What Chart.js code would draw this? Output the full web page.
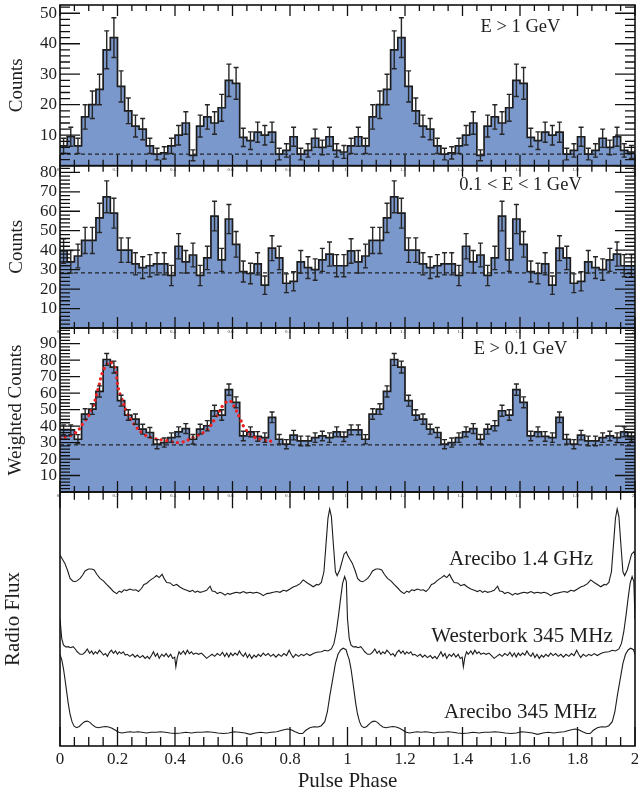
<!DOCTYPE html>
<html>
<head>
<meta charset="utf-8">
<script src="https://cdn.jsdelivr.net/npm/chart.js@4.4.1/dist/chart.umd.min.js"></script>
<style>
    html, body { margin: 0; padding: 0; background: #fff; }
    canvas { display: block; }
</style>
</head>
<body>
<canvas id="phasogram" width="638" height="796"></canvas>
<script>
// left edges of the phase bins, one rotation (shown twice)
var binEdges = [0, 0.025, 0.05, 0.075, 0.1, 0.125, 0.15, 0.175, 0.2, 0.225,
    0.25, 0.275, 0.3, 0.325, 0.35, 0.375, 0.4, 0.425, 0.45, 0.475,
    0.5, 0.525, 0.55, 0.575, 0.6, 0.625, 0.65, 0.675, 0.7, 0.725,
    0.75, 0.775, 0.8, 0.825, 0.85, 0.875, 0.9, 0.925, 0.95, 0.975];

// E > 1 GeV
var counts_high = [6.5, 9.5, 6.5, 16, 20, 25, 38, 42, 26, 18, 13, 12, 6.5, 3.8, 4.2, 6.5, 10, 14, 3.4, 13,
    16, 14, 19, 28, 27, 9.3, 8.2, 11, 10, 11, 3.8, 5, 9.5, 3.8, 5, 9, 6, 9.5, 5, 4.5];
var err_high = [2.5, 3.1, 2.5, 4, 4.5, 5, 6.2, 6.5, 5.1, 4.2, 3.6, 3.5, 2.5, 1.9, 2, 2.5, 3.2, 3.7, 1.8, 3.6,
    4, 3.7, 4.4, 5.3, 5.2, 3, 2.9, 3.3, 3.2, 3.3, 1.9, 2.2, 3.1, 1.9, 2.2, 3, 2.4, 3.1, 2.2, 2.1];
var bg_high = 3.8;

// 0.1 < E < 1 GeV
var counts_mid = [39.6, 34, 37, 45, 45, 56.6, 67.4, 59, 40, 40, 33, 31, 32, 33, 33, 27, 42, 34, 37.5, 27,
    36, 57.5, 35, 56, 43, 29, 28, 33, 22, 41, 36, 23, 24, 34, 31, 30, 35, 38, 32, 32];
var err_mid = [6.3, 5.8, 6.1, 6.7, 6.7, 7.5, 8.2, 7.7, 6.3, 6.3, 5.7, 5.6, 5.7, 5.7, 5.7, 5.2, 6.5, 5.8, 6.1, 5.2,
    6, 7.6, 5.9, 7.5, 6.6, 5.4, 5.3, 5.7, 4.7, 6.4, 6, 4.8, 4.9, 5.8, 5.6, 5.5, 5.9, 6.2, 5.7, 5.7];
var bg_mid = 28.3;

// E > 0.1 GeV, weighted
var counts_all = [37.7, 37.7, 32, 47.3, 50.3, 61, 80.4, 75.8, 55.4, 46.7, 44.2, 38.1, 36.1, 29, 30, 33, 36.5, 38.5, 32, 38.1,
    40.2, 49.3, 46.7, 62.1, 54.4, 34, 36.5, 33.7, 33, 45.3, 32, 29, 34.5, 31, 31, 33, 34, 33, 36.5, 33.5];
var err_all = [3, 3, 2.8, 3.2, 3.2, 3.4, 3.6, 3.6, 3.3, 3.2, 3.1, 3, 3, 2.8, 2.8, 2.9, 3, 3, 2.9, 3,
    3.1, 3.3, 3.2, 3.4, 3.3, 2.9, 3, 2.9, 2.9, 3.2, 2.9, 2.8, 2.9, 2.9, 2.9, 2.9, 2.9, 2.9, 3, 2.9];
var bg_all = 28.6;

// fit (red dotted)
var fit_phase = [0, 0.023, 0.052, 0.081, 0.110, 0.133, 0.151, 0.174, 0.191, 0.203, 0.214, 0.232, 0.255, 0.290,
    0.325, 0.371, 0.417, 0.464, 0.510, 0.545, 0.568, 0.591, 0.609, 0.626, 0.643, 0.672, 0.707, 0.742];
var fit_value = [32.6, 33.6, 35.6, 41.7, 49.7, 62.8, 73.9, 79.0, 74.9, 62.8, 56.8, 48.7, 41.7, 35.2,
    32.6, 31.2, 30.0, 33.2, 37.6, 46.1, 52.7, 55.3, 50.7, 44.7, 38.6, 33.6, 31.6, 30.6];

// Arecibo 1.4 GHz
var ao14_phase = [0, 0.008, 0.017, 0.027, 0.035, 0.044, 0.052, 0.060, 0.070, 0.079, 0.087, 0.099, 0.110, 0.119, 0.128,
    0.139, 0.151, 0.162, 0.174, 0.186, 0.197, 0.206, 0.214, 0.223, 0.232, 0.243, 0.255, 0.264, 0.273, 0.284,
    0.292, 0.301, 0.311, 0.319, 0.327, 0.336, 0.345, 0.355, 0.362, 0.371, 0.383, 0.394, 0.406, 0.417, 0.429,
    0.441, 0.452, 0.461, 0.470, 0.478, 0.487, 0.499, 0.510, 0.522, 0.529, 0.539, 0.547, 0.557, 0.566, 0.574,
    0.583, 0.591, 0.603, 0.614, 0.626, 0.638, 0.649, 0.661, 0.672, 0.684, 0.696, 0.707, 0.719, 0.730, 0.742,
    0.754, 0.765, 0.777, 0.788, 0.800, 0.811, 0.823, 0.835, 0.846, 0.858, 0.869, 0.881, 0.893, 0.900, 0.909,
    0.918, 0.925, 0.932, 0.938, 0.944, 0.951, 0.958, 0.964, 0.973, 0.981, 0.988, 0.996];
var ao14_flux = [75.2, 73.6, 71.9, 68.9, 66, 65, 64.7, 65.1, 66, 67.3, 68.9, 69.7, 69.7, 69.3, 67.6,
    66, 65, 63.6, 62.3, 60.8, 60, 61, 60.5, 61.5, 61.2, 61.8, 61.3, 61.5, 60.8, 62.1,
    63.6, 64, 65, 65.7, 66.3, 67.1, 66.3, 67.6, 66, 64.4, 64.2, 63.1, 63.6, 62.6, 61.8,
    61.3, 60.8, 61.3, 60.5, 61, 60.5, 60.8, 61.3, 62.9, 61, 60.8, 60, 60.5, 60, 59.4,
    60.1, 59.7, 60.2, 60.5, 60.2, 60.8, 60.2, 60.5, 60.2, 60.5, 60, 59.2, 60, 60.2, 60.5,
    60.8, 60.5, 61.3, 61, 61.8, 62.6, 63.1, 63.9, 65.4, 64.4, 63.6, 62.7, 63.6, 63.4, 64.4,
    68.6, 79.1, 89.6, 93.3, 90.3, 79.1, 68.6, 67.1, 69.3, 72.6, 75.5, 76.5];

// Westerbork 345 MHz
var wsrt_phase = [0, 0.006, 0.012, 0.020, 0.029, 0.037, 0.046, 0.053, 0.060, 0.070, 0.079, 0.087, 0.095, 0.103, 0.110,
    0.116, 0.123, 0.130, 0.137, 0.144, 0.151, 0.158, 0.165, 0.172, 0.179, 0.186, 0.193, 0.200, 0.206, 0.213,
    0.220, 0.227, 0.234, 0.243, 0.253, 0.261, 0.269, 0.278, 0.288, 0.296, 0.304, 0.311, 0.319, 0.325, 0.332,
    0.339, 0.345, 0.354, 0.362, 0.369, 0.377, 0.385, 0.392, 0.399, 0.403, 0.408, 0.414, 0.420, 0.429, 0.436,
    0.443, 0.450, 0.457, 0.464, 0.473, 0.482, 0.492, 0.501, 0.510, 0.519, 0.529, 0.538, 0.547, 0.557, 0.565,
    0.573, 0.580, 0.587, 0.594, 0.601, 0.609, 0.617, 0.624, 0.631, 0.638, 0.645, 0.652, 0.659, 0.667, 0.675,
    0.682, 0.690, 0.698, 0.707, 0.715, 0.724, 0.733, 0.742, 0.751, 0.760, 0.770, 0.779, 0.788, 0.797, 0.804,
    0.811, 0.820, 0.830, 0.839, 0.848, 0.858, 0.869, 0.881, 0.893, 0.909, 0.921, 0.932, 0.944, 0.953, 0.961,
    0.969, 0.976, 0.983, 0.990, 0.996];
var wsrt_flux = [50, 42.4, 39.8, 39, 39.1, 38.7, 39.1, 38.2, 37.1, 36.1, 36.1, 36.9, 38.2, 36.5, 37.4,
    36.1, 37.1, 36.4, 37.7, 36.9, 35.8, 36.4, 35.3, 36.9, 37.7, 36.5, 37.4, 36.1, 37.1, 36.4,
    37.1, 35.8, 36.1, 35.3, 36.1, 35, 35.8, 34.8, 35.6, 34.5, 35.3, 34.3, 35.8, 37.1, 35.3,
    36.4, 34.5, 36.1, 35.3, 36.4, 35, 36.1, 34.5, 35, 31.2, 34.8, 37.1, 36.1, 37.4, 36.1,
    37.7, 36.4, 37.1, 36.1, 36.6, 36.1, 36.6, 35.6, 34.5, 35.3, 36.1, 35.3, 36.4, 35.6, 36.9,
    35.3, 36.6, 35, 36.6, 35.6, 36.6, 35.8, 37.4, 36.1, 35.3, 36.6, 34.8, 36.1, 34.5, 35.8,
    35, 36.1, 35.3, 36.6, 35.6, 36.4, 35.3, 36.1, 35, 36.1, 35.3, 36.4, 35.6, 37.7, 36.1,
    34.8, 36.1, 35.3, 36.1, 35.6, 36.4, 35.6, 36.4, 36.9, 37.1, 37.7, 37.4, 38.2, 40.4, 45,
    51.6, 58.1, 64, 66.7, 64.7];

// Arecibo 345 MHz
var ao345_phase = [0, 0.006, 0.012, 0.017, 0.023, 0.029, 0.035, 0.042, 0.049, 0.058, 0.067, 0.077, 0.086, 0.095, 0.104,
    0.113, 0.123, 0.134, 0.146, 0.158, 0.169, 0.181, 0.193, 0.204, 0.216, 0.230, 0.243, 0.257, 0.271, 0.285,
    0.301, 0.317, 0.334, 0.350, 0.366, 0.383, 0.401, 0.420, 0.438, 0.457, 0.475, 0.494, 0.512, 0.531, 0.549,
    0.568, 0.587, 0.605, 0.624, 0.643, 0.661, 0.680, 0.698, 0.717, 0.735, 0.754, 0.772, 0.791, 0.804, 0.818,
    0.832, 0.844, 0.855, 0.869, 0.883, 0.898, 0.909, 0.921, 0.930, 0.939, 0.949, 0.958, 0.967, 0.976, 0.985,
    0.995];
var ao345_flux = [36, 34, 30.5, 26.5, 21.5, 16.5, 12.5, 9.5, 7.8, 7.2, 7.7, 8.8, 9.6, 9.8, 9.3,
    8.3, 7.5, 7.2, 7.5, 7.7, 7.5, 7, 6.2, 5.4, 5.1, 5.4, 5.6, 5.4, 5.6, 5.4,
    5.1, 5.4, 5.4, 5.6, 5.4, 5.1, 4.9, 5.1, 5.4, 5.1, 5.4, 5.4, 5.6, 5.4, 5.1,
    4.9, 5.1, 5.6, 5.4, 5.1, 4.6, 5.1, 5.4, 5.1, 5.4, 5.6, 6.2, 6.7, 6.4, 5.6,
    4.9, 4.9, 6.2, 7.2, 7.6, 7.5, 8, 9.6, 13.5, 20.1, 26.6, 32.5, 36.1, 37.8, 38.5,
    37.9];

var xTicks = [0, 0.2, 0.4, 0.6, 0.8, 1, 1.2, 1.4, 1.6, 1.8, 2];

// histogram: left bin edges over two rotations, closed at phase 2
function histo_punkte(werte) {
    var pts = [];
    for (var c = 0; c < 2; c++) {
        for (var i = 0; i < binEdges.length; i++) {
            pts.push({x: binEdges[i] + c, y: werte[i]});
        }
    }
    pts.push({x: 2, y: werte[werte.length - 1]});
    return pts;
}

function profil_punkte(phasen, werte) {
    var pts = [];
    for (var c = 0; c < 2; c++) {
        for (var i = 0; i < phasen.length; i++) {
            pts.push({x: phasen[i] + c, y: werte[i]});
        }
    }
    pts.push({x: 2, y: werte[0]});
    return pts;
}

function doppelt(arr) {
    return arr.concat(arr);
}

function histo_set(werte, fehler, achse) {
    return {
        data: histo_punkte(werte),
        fehler: doppelt(fehler),
        yAxisID: achse,
        stepped: 'before',
        fill: 'origin',
        backgroundColor: '#7b98cd',
        borderColor: '#1c1c1c',
        borderWidth: 1.7,
        pointRadius: 0,
        order: 3
    };
}

function linie_set(punkte, achse) {
    return {
        data: punkte,
        yAxisID: achse,
        borderColor: '#1c1c1c',
        borderWidth: 1.1,
        pointRadius: 0,
        fill: false,
        order: 1
    };
}

function bg_set(wert, achse) {
    return {
        data: [{x: 0, y: wert}, {x: 2, y: wert}],
        yAxisID: achse,
        borderColor: '#222',
        borderWidth: 1.2,
        borderDash: [4, 3],
        pointRadius: 0,
        fill: false,
        order: 2
    };
}

var fit_punkte = [];
for (var i = 0; i < fit_phase.length; i++) fit_punkte.push({x: fit_phase[i], y: fit_value[i]});

var panels = [
    {id: 'y1', major: 10, minor: 2, xMaj: 11, xMin: 6},
    {id: 'y2', major: 10, minor: 2, xMaj: 11, xMin: 6},
    {id: 'y3', major: 10, minor: 2, xMaj: 11, xMin: 6},
    {id: 'y4', major: 0, minor: 0, xMaj: 19, xMin: 9}
];

var rahmen = {
    id: 'rahmen',
    afterDatasetsDraw: function(chart) {
        var ctx = chart.ctx;
        var area = chart.chartArea;
        var sx = chart.scales.x;

        // error bars at bin centres
        chart.data.datasets.forEach(function(ds) {
            if (!ds.fehler) return;
            var sy = chart.scales[ds.yAxisID];
            ctx.save();
            ctx.strokeStyle = '#262626';
            ctx.lineWidth = 1.4;
            ctx.beginPath();
            for (var i = 0; i < ds.fehler.length; i++) {
                var p = ds.data[i];
                var xc = sx.getPixelForValue(p.x + 0.0125);
                var ya = sy.getPixelForValue(p.y - ds.fehler[i]);
                var yb = sy.getPixelForValue(p.y + ds.fehler[i]);
                ctx.moveTo(xc, ya); ctx.lineTo(xc, yb);
                ctx.moveTo(xc - 2.5, ya); ctx.lineTo(xc + 2.5, ya);
                ctx.moveTo(xc - 2.5, yb); ctx.lineTo(xc + 2.5, yb);
            }
            ctx.stroke();
            ctx.restore();
        });

        ctx.save();
        ctx.strokeStyle = '#111';
        ctx.lineWidth = 1.3;
        panels.forEach(function(pn, idx) {
            var sy = chart.scales[pn.id];
            var top = sy.top, bottom = sy.bottom;
            ctx.beginPath();
            // phase ticks top and bottom
            for (var k = 0; k <= 40; k++) {
                var xp = sx.getPixelForValue(k * 0.05);
                var len = (k % 4 === 0) ? pn.xMaj : pn.xMin;
                var lenTop = idx === 3 ? len * 0.85 : len;
                ctx.moveTo(xp, bottom); ctx.lineTo(xp, bottom - len);
                ctx.moveTo(xp, top); ctx.lineTo(xp, top + lenTop);
            }
            // y ticks left and right
            if (pn.minor) {
                for (var v = 0; v <= sy.max; v += pn.minor) {
                    var yp = sy.getPixelForValue(v);
                    var l = (v % pn.major === 0) ? 20 : 10;
                    ctx.moveTo(area.left, yp); ctx.lineTo(area.left + l, yp);
                    ctx.moveTo(area.right, yp); ctx.lineTo(area.right - l, yp);
                }
            }
            ctx.stroke();
            ctx.lineWidth = 1.6;
            ctx.strokeRect(area.left, top, area.right - area.left, bottom - top);
            ctx.lineWidth = 1.3;

            // tiny phase labels just under the upper panel
            if (idx > 0) {
                ctx.fillStyle = '#333';
                ctx.font = '5px "Liberation Serif"';
                ctx.textAlign = 'center';
                ctx.textBaseline = 'top';
                xTicks.forEach(function(t) {
                    ctx.fillText(String(t), sx.getPixelForValue(t) - 2, top + 1.5);
                });
            }
        });

        // panel labels
        ctx.fillStyle = '#1e1e1e';
        ctx.textAlign = 'center';
        ctx.textBaseline = 'alphabetic';
        ctx.font = '18.5px "Liberation Serif"';
        ctx.fillText('E > 1 GeV', 520.5, 31.5);
        ctx.fillText('0.1 < E < 1 GeV', 520.5, 190);
        ctx.fillText('E > 0.1 GeV', 520.5, 354);
        ctx.font = '21px "Liberation Serif"';
        ctx.fillText('Arecibo 1.4 GHz', 521, 565);
        ctx.fillText('Westerbork 345 MHz', 522, 641.5);
        ctx.fillText('Arecibo 345 MHz', 520.5, 717.5);
        ctx.restore();
    }
};

function y_achse(max, gewicht, titel, tsize, tpad, labels) {
    return {
        type: 'linear',
        position: 'left',
        stack: 'panels',
        stackWeight: gewicht,
        min: 0,
        max: max,
        grid: {display: false, drawTicks: false},
        border: {display: false},
        ticks: {
            display: labels,
            stepSize: 10,
            autoSkip: false,
            includeBounds: false,
            padding: 3,
            color: '#1e1e1e',
            font: {family: 'Liberation Serif', size: 17},
            callback: function(v) { return v === 0 ? '' : v; }
        },
        title: {
            display: true,
            text: titel,
            color: '#1e1e1e',
            font: {family: 'Liberation Serif', size: tsize},
            padding: {top: tpad, bottom: 0}
        },
        afterFit: function(s) { s.width = 60; s.paddingTop = 0; s.paddingBottom = 0; }
    };
}

// stacked left axes are placed bottom-up in reverse order: radio panel first
var ctx = document.getElementById('phasogram').getContext('2d');
var myChart = new Chart(ctx, {
    type: 'line',
    data: {
        datasets: [
            histo_set(counts_high, err_high, 'y1'),
            bg_set(bg_high, 'y1'),
            histo_set(counts_mid, err_mid, 'y2'),
            bg_set(bg_mid, 'y2'),
            histo_set(counts_all, err_all, 'y3'),
            bg_set(bg_all, 'y3'),
            {
                data: fit_punkte,
                yAxisID: 'y3',
                borderColor: '#ee2222',
                borderWidth: 3.2,
                borderDash: [0.1, 5.4],
                borderCapStyle: 'round',
                tension: 0.4,
                pointRadius: 0,
                fill: false,
                order: 1
            },
            linie_set(profil_punkte(ao14_phase, ao14_flux), 'y4'),
            linie_set(profil_punkte(wsrt_phase, wsrt_flux), 'y4'),
            linie_set(profil_punkte(ao345_phase, ao345_flux), 'y4')
        ]
    },
    options: {
        responsive: false,
        animation: false,
        devicePixelRatio: 1,
        layout: {padding: {top: 5, right: 3, left: 0, bottom: 0}},
        plugins: {legend: {display: false}, tooltip: {enabled: false}},
        scales: {
            x: {
                type: 'linear',
                position: 'bottom',
                min: 0,
                max: 2,
                grid: {display: false, drawTicks: false},
                border: {display: false},
                ticks: {
                    stepSize: 0.2,
                    padding: 3,
                    maxRotation: 0,
                    autoSkip: false,
                    color: '#1e1e1e',
                    font: {family: 'Liberation Serif', size: 17},
                    callback: function(v) { return String(Math.round(v * 10) / 10); }
                },
                title: {
                    display: true,
                    text: 'Pulse Phase',
                    color: '#1e1e1e',
                    font: {family: 'Liberation Serif', size: 21},
                    padding: {top: 0, bottom: 2}
                },
                afterFit: function(s) { s.height = 50; s.paddingLeft = 0; s.paddingRight = 0; }
            },
            y4: y_achse(100, 254, 'Radio Flux', 21, 1, false),
            y3: y_achse(99.5, 164, 'Weighted Counts', 19, 4.5, true),
            y2: y_achse(83.4, 162.3, 'Counts', 19, 6, true),
            y1: y_achse(52.7, 160.7, 'Counts', 19, 6, true)
        }
    },
    plugins: [rahmen]
});
</script>
</body>
</html>
